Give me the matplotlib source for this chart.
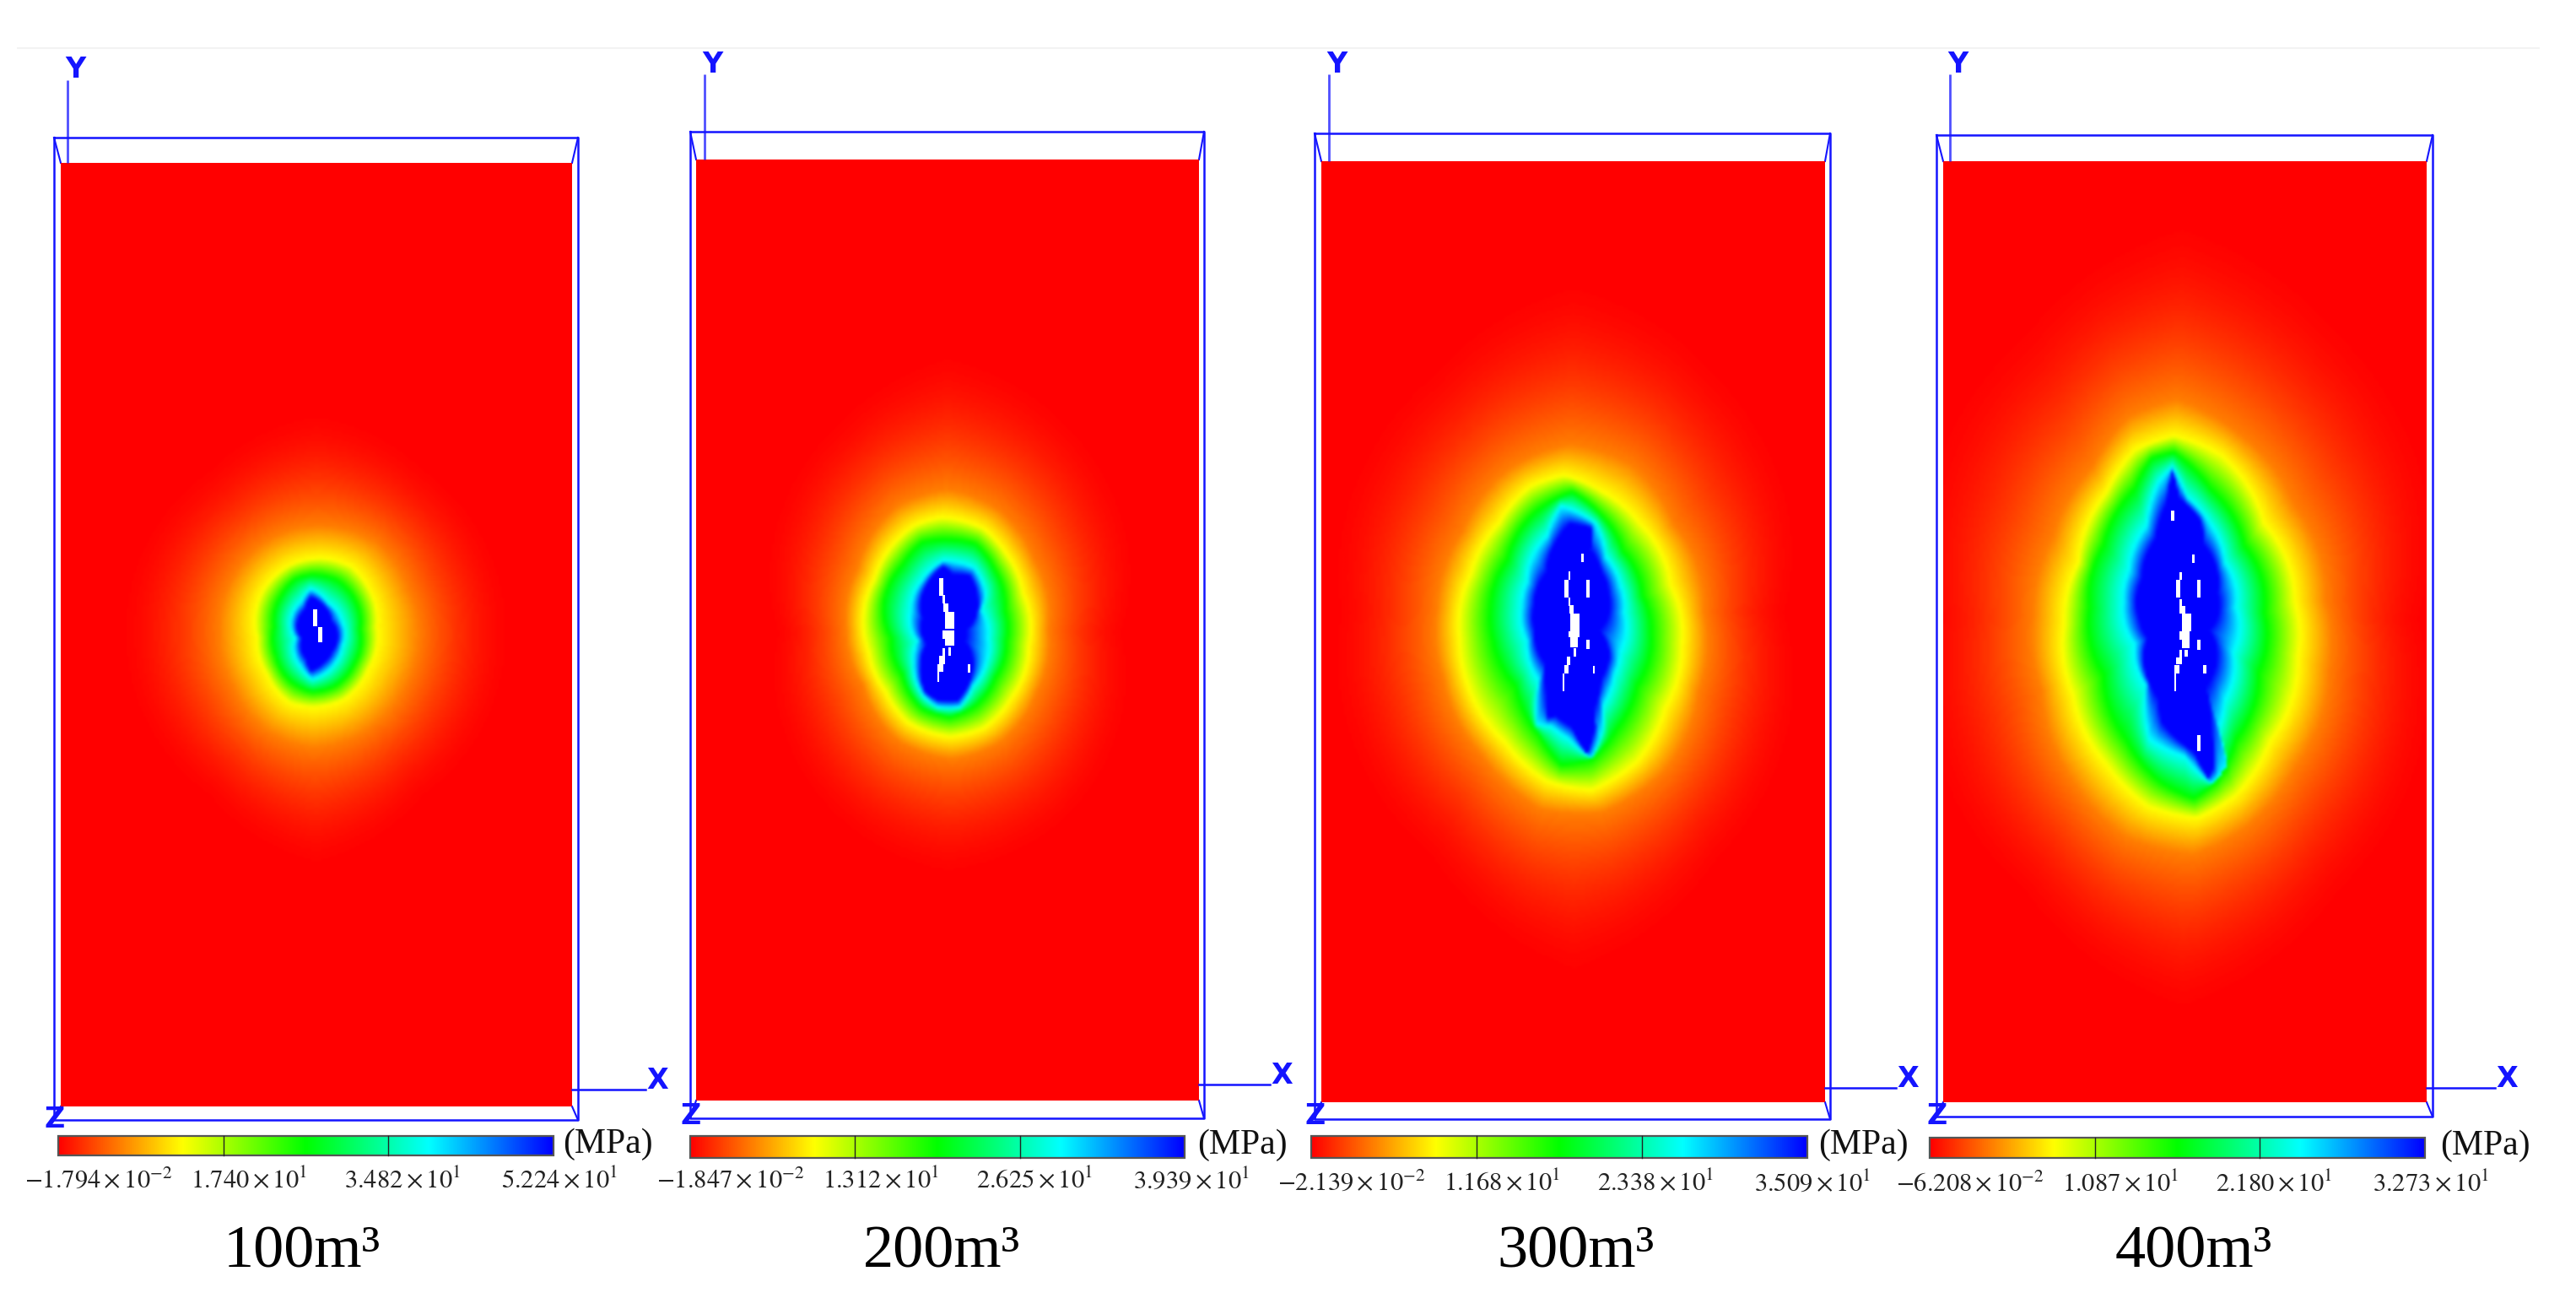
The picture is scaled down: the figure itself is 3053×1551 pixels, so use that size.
import matplotlib
matplotlib.use("Agg")
import matplotlib.pyplot as plt
from matplotlib.colors import LinearSegmentedColormap
from matplotlib.patches import Rectangle
import numpy as np

W, H = 3053, 1551
DPI = 100
BLUE = "#1414ff"
plt.rcParams['mathtext.fontset'] = 'stix'
plt.rcParams['font.family'] = ['Liberation Serif', 'DejaVu Serif']

TITLES = ["100m³", "200m³", "300m³", "400m³"]
TICKS_1 = [r"$-1.794\times10^{-2}$", r"$1.740\times10^{1}$", r"$3.482\times10^{1}$", r"$5.224\times10^{1}$"]
TICKS_2 = [r"$-1.847\times10^{-2}$", r"$1.312\times10^{1}$", r"$2.625\times10^{1}$", r"$3.939\times10^{1}$"]
TICKS_3 = [r"$-2.139\times10^{-2}$", r"$1.168\times10^{1}$", r"$2.338\times10^{1}$", r"$3.509\times10^{1}$"]
TICKS_4 = [r"$-6.208\times10^{-2}$", r"$1.087\times10^{1}$", r"$2.180\times10^{1}$", r"$3.273\times10^{1}$"]

# normalised stress on each traced contour, high to low
LEVELS = [1.0, 0.75, 0.5, 0.25, 0.125, 0.0]

P1_BLUE = [(445,325),(485,350),(515,410),(520,515),(490,555),(445,585),(428,540),(415,470),(425,370)]
P1_CYAN = [(445,295),(505,345),(555,410),(555,500),(530,560),(450,615),(410,570),(392,470),(412,340)]
P1_GREEN = [(450,245),(540,265),(605,340),(620,440),(600,560),(530,640),(450,660),(370,620),(320,530),(315,430),(340,320),(390,260)]
P1_YELLOW = [(480,185),(590,215),(650,290),(680,430),(650,580),(560,690),(450,715),(370,700),(290,600),(255,470),(275,300),(370,210)]
P1_ORANGE = [(480,70),(680,130),(790,290),(830,450),(780,640),(640,800),(450,860),(290,800),(170,640),(120,450),(170,250),(310,110)]
P1_RED = [(465,-400),(880,-180),(1200,450),(880,1080),(465,1350),(50,1080),(-280,450),(50,-180)]

P2_BLUE = [(415,335),(450,365),(510,370),(535,440),(495,560),(490,600),(520,680),(465,810),(395,808),(352,780),(338,680),(358,610),(345,520),(358,400)]
P2_CYAN = [(415,315),(525,340),(565,430),(550,490),(575,590),(570,670),(520,760),(475,835),(395,835),(345,795),(310,680),(325,600),(300,490),(340,385)]
P2_GREEN = [(430,240),(530,255),(600,350),(635,490),(640,600),(600,730),(530,830),(440,870),(340,840),(270,720),(230,590),(205,460),(270,330),(340,250)]
P2_YELLOW = [(410,160),(560,200),(640,290),(700,430),(720,620),(660,800),(560,910),(440,940),(290,890),(210,780),(150,640),(130,520),(170,380),(310,190)]
P2_ORANGE = [(430,60),(610,130),(740,310),(790,560),(750,780),(620,960),(450,1020),(260,960),(130,760),(70,560),(110,340),(250,120)]
P2_RED = [(430,-500),(880,-250),(1100,570),(880,1300),(430,1500),(20,1300),(-220,570),(20,-250)]

P3_BLUE = [(480,305),(560,320),(555,400),(595,480),(618,560),(585,680),(622,770),(593,850),(565,960),(572,1010),(543,1122),(490,1025),(432,985),(405,992),(400,900),(396,800),(358,680),(358,590),(400,480),(443,355)]
P3_CYAN = [(450,240),(575,305),(608,420),(660,520),(675,620),(660,760),(640,840),(600,950),(600,1030),(560,1138),(478,1068),(415,1022),(362,1016),(372,860),(330,720),(310,600),(330,510),(402,345)]
P3_GREEN = [(490,190),(590,270),(670,400),(740,560),(770,690),(720,880),(650,1030),(560,1140),(450,1160),(370,1050),(290,880),(210,720),(200,600),(260,430),(350,270)]
P3_YELLOW = [(460,130),(600,190),(730,300),(840,520),(880,740),(820,960),(720,1150),(560,1250),(400,1220),(250,1080),(120,880),(90,720),(130,480),(230,300),(340,170)]
P3_ORANGE = [(480,20),(700,90),(850,300),(960,620),(940,900),(820,1180),(600,1330),(380,1320),(170,1130),(30,850),(10,600),(100,330),(260,110)]
P3_RED = [(495,-650),(1050,-300),(1300,620),(1050,1550),(495,2000),(-50,1550),(-400,620),(-50,-300)]

P4_BLUE = [(465,240),(488,335),(565,415),(575,500),(622,670),(592,800),(583,1000),(602,1150),(612,1285),(590,1325),(540,1232),(426,1124),(416,1040),(378,830),(348,760),(358,620),(405,480),(444,355)]
P4_CYAN = [(465,222),(515,328),(597,420),(650,560),(690,720),(680,880),(650,1050),(630,1150),(660,1285),(603,1348),(508,1250),(382,1188),(372,1000),(330,850),(290,700),(310,590),(372,430),(415,275)]
P4_GREEN = [(470,170),(600,300),(720,500),(790,740),(770,950),(690,1190),(620,1340),(540,1400),(420,1340),(300,1190),(220,960),(170,720),(220,500),(330,300),(390,190)]
P4_YELLOW = [(470,110),(640,180),(790,420),(900,700),(910,900),(810,1200),(690,1390),(550,1470),(380,1430),(230,1280),(110,1030),(80,780),(130,560),(230,310),(330,160)]
P4_ORANGE = [(480,-20),(700,100),(900,360),(1010,700),(1020,950),(900,1290),(730,1500),(540,1600),(300,1540),(110,1340),(0,1020),(-30,750),(40,470),(180,220),(310,40)]
P4_RED = [(500,-750),(1100,-350),(1400,760),(1100,1800),(500,2250),(-100,1800),(-480,760),(-100,-350)]

# white failed cells, (x, y, w, h) in crop pixels
P1_CRACK = [(452,365,15,62),(472,428,15,56)]
P2_CRACK = [(398,375,15,62),(412,435,8,30),(415,465,18,30),(420,495,33,60),(412,560,40,30),(420,590,33,25),(432,620,8,30),(410,625,10,25),(400,650,20,30),(393,680,20,28),(392,705,8,38),(500,680,10,32)]
P3_CRACK = [(523,408,8,30),(476,472,6,28),(463,502,15,62),(541,502,12,62),(476,565,6,28),(480,592,15,30),(482,622,35,62),(476,685,40,20),(483,705,28,35),(541,715,12,32),(495,745,10,30),(472,775,12,30),(462,805,15,30),(455,835,8,62),(564,807,7,28)]
P4_CRACK = [(458,375,12,37),(535,530,7,30),(488,595,9,25),(477,622,15,62),(553,622,10,62),(490,690,8,25),(490,715,20,25),(497,742,33,62),(490,805,35,30),(497,835,27,30),(553,835,10,35),(507,870,12,25),(490,870,8,30),(477,897,20,25),(470,925,20,30),(470,955,7,62),(572,925,12,30),(553,1172,10,57)]

stress_cmap = LinearSegmentedColormap.from_list("stress", ["#ff0000", "#ffff00", "#00ff00", "#00ffff", "#0000ff"])

PANELS = [
    dict(contours=[P1_BLUE, P1_CYAN, P1_GREEN, P1_YELLOW, P1_ORANGE, P1_RED], crack=P1_CRACK, crop=(220, 600), centre=(465, 450),
         red=(72, 678, 193, 1311), frame=(64, 685, 163, 1327), axis_x=80, y_top=95, x_y=1291, x_end=765,
         bar=(69, 656, 1346, 1369), tick_y=1399, ticks=TICKS_1, title=TITLES[0], title_x=358, z_y=1326, mpa_x=720),
    dict(contours=[P2_BLUE, P2_CYAN, P2_GREEN, P2_YELLOW, P2_ORANGE, P2_RED], crack=P2_CRACK, crop=(980, 560), centre=(430, 570),
         red=(825, 1421, 189, 1304), frame=(818, 1427, 156, 1325), axis_x=835, y_top=88, x_y=1285, x_end=1505,
         bar=(818, 1404, 1346, 1372), tick_y=1399, ticks=TICKS_2, title=TITLES[1], title_x=1116, z_y=1322, mpa_x=1472),
    dict(contours=[P3_BLUE, P3_CYAN, P3_GREEN, P3_YELLOW, P3_ORANGE, P3_RED], crack=P3_CRACK, crop=(1700, 520), centre=(495, 620),
         red=(1566, 2163, 191, 1306), frame=(1558, 2169, 158, 1326), axis_x=1575, y_top=88, x_y=1289, x_end=2247,
         bar=(1554, 2142, 1346, 1372), tick_y=1402, ticks=TICKS_3, title=TITLES[2], title_x=1868, z_y=1322, mpa_x=2208),
    dict(contours=[P4_BLUE, P4_CYAN, P4_GREEN, P4_YELLOW, P4_ORANGE, P4_RED], crack=P4_CRACK, crop=(2420, 480), centre=(500, 760),
         red=(2303, 2876, 191, 1306), frame=(2295, 2883, 160, 1323), axis_x=2311, y_top=88, x_y=1289, x_end=2957,
         bar=(2287, 2874, 1348, 1372), tick_y=1403, ticks=TICKS_4, title=TITLES[3], title_x=2600, z_y=1322, mpa_x=2945),
]
TICK_OFFSETS = [48, 226, 408, 594]


# Radius of a traced contour as a function of the angle round the centre
def contour_radius(points, centre, angles):
    pts = np.array(points, dtype=float) - np.array(centre, dtype=float)
    theta = np.arctan2(pts[:, 1], pts[:, 0])
    order = np.argsort(theta)
    return np.interp(angles, theta[order], np.hypot(pts[:, 0], pts[:, 1])[order], period=2 * np.pi)


# Builds the stress picture from the traced contours, 9 crop pixels per cell
def stress_field(panel):
    left, right, top, bottom = panel["red"]
    ox, oy = panel["crop"]
    xs = (np.arange(left, right, 3) + 1.5 - ox) * 3
    ys = (np.arange(top, bottom, 3) + 1.5 - oy) * 3
    xx, yy = np.meshgrid(xs, ys)
    dx, dy = xx - panel["centre"][0], yy - panel["centre"][1]
    angles = np.arctan2(dy, dx)
    radius = np.hypot(dx, dy).ravel()
    radii = np.array([contour_radius(c, panel["centre"], angles.ravel()) for c in panel["contours"]])
    radii = np.maximum.accumulate(radii + np.arange(6)[:, None] * 0.01, axis=0)
    field = np.zeros(radius.size)
    for i in range(5):
        r0, r1 = radii[i], radii[i + 1]
        frac = np.clip((radius - r0) / (r1 - r0), 0, 1)
        inside = (radius >= r0) & (radius < r1)
        if i == 4:
            # the outer glow dies away softly, no visible edge
            field[inside] = (LEVELS[4] * (1 - frac) ** 2)[inside]
        else:
            field[inside] = (LEVELS[i] + (LEVELS[i + 1] - LEVELS[i]) * frac)[inside]
    field[radius < radii[0]] = 1.0
    return field.reshape(xx.shape)


def draw_frame(ax, panel):
    left, right, top, bottom = panel["red"]
    f_left, f_right, f_top, f_bottom = panel["frame"]
    ax.plot([f_left, f_right, f_right, f_left, f_left], [f_top, f_top, f_bottom, f_bottom, f_top], color=BLUE, lw=1.8, zorder=4)
    # corners of the model box going back to the red face
    for fx, rx in ((f_left, left), (f_right, right)):
        for fy, ry in ((f_top, top), (f_bottom, bottom)):
            ax.plot([fx, rx], [fy, ry], color=BLUE, lw=1.5, zorder=2)
    ax.plot([panel["axis_x"]] * 2, [panel["y_top"], top], color=BLUE, lw=2.0, alpha=0.75, zorder=4, solid_capstyle="butt")
    ax.plot([right, panel["x_end"]], [panel["x_y"]] * 2, color=BLUE, lw=1.8, zorder=4)
    sans = dict(family="DejaVu Sans", fontweight="bold", color=BLUE, fontsize=24, ha="center", va="center")
    ax.text(panel["axis_x"] + 9, panel["y_top"] - 12, "Y", **sans)
    ax.text(panel["x_end"] + 14, panel["x_y"] - 11, "X", **sans)
    ax.text(f_left + 1, panel["z_y"], "Z", **sans)


def draw_colourbar(ax, panel):
    left, right, top, bottom = panel["bar"]
    ax.imshow(np.linspace(0, 1, 512)[None, :], cmap=stress_cmap, extent=(left, right, bottom, top), aspect="auto", zorder=3)
    ax.add_patch(Rectangle((left, top), right - left, bottom - top, fill=False, ec="#555555", lw=1.6, zorder=4))
    third = (right - left) / 3
    for k in (1, 2):
        ax.plot([left + k * third] * 2, [top, bottom], color="#222222", lw=1.0, zorder=4)
    for off, label in zip(TICK_OFFSETS, panel["ticks"]):
        ax.text(left + off, panel["tick_y"], label, fontsize=22, color="#222222", ha="center", va="center")
    ax.text(panel["mpa_x"], (top + bottom) / 2 - 2, "(MPa)", fontsize=30, color="#111111", ha="center", va="center")
    ax.text(panel["title_x"], 1484, panel["title"], fontsize=52, color="black", ha="center", va="center")


if __name__ == "__main__":
    fig = plt.figure(figsize=(W / DPI, H / DPI), dpi=DPI)
    ax = fig.add_axes([0, 0, 1, 1])
    ax.hlines(57, 20, 3010, color="#f3f3f3", lw=1.5)
    for panel in PANELS:
        left, right, top, bottom = panel["red"]
        draw_frame(ax, panel)
        ax.imshow(stress_field(panel), cmap=stress_cmap, vmin=0, vmax=1, extent=(left, right, bottom, top),
                  aspect="auto", interpolation="bicubic", zorder=3)
        ox, oy = panel["crop"]
        for cx, cy, cw, ch in panel["crack"]:
            ax.add_patch(Rectangle((ox + cx / 3, oy + cy / 3), cw / 3, ch / 3, fc="white", ec="none", zorder=5))
        draw_colourbar(ax, panel)
    ax.set_xlim(0, W)
    ax.set_ylim(H, 0)
    ax.axis("off")
    fig.savefig("out.png", dpi=DPI, facecolor="white")
